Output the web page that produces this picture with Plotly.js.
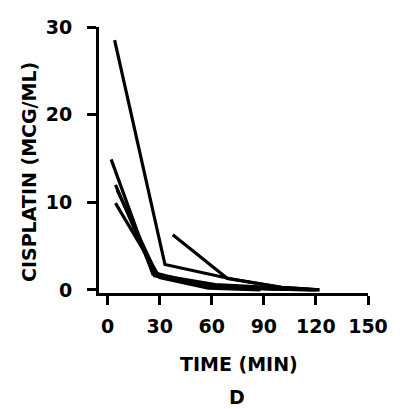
<!DOCTYPE html>
<html>
<head>
<meta charset="utf-8">
<script src="https://cdn.plot.ly/plotly-3.0.1.min.js"></script>
<style>html,body{margin:0;padding:0;background:#fff;}#chart{width:400px;height:409px;}</style>
</head>
<body>
<div id="chart"></div>
<script>
// Time (min) and cisplatin concentration (mcg/mL) for each patient curve
const timeA = [4, 33, 70, 100, 122];
const concA = [28.5, 2.9, 1.3, 0.3, 0];
const timeB = [2, 26, 62, 98, 120];
const concB = [14.9, 1.8, 0.6, 0.2, 0];
const timeC = [4.5, 27, 60, 95, 120];
const concC = [12, 1.6, 0.4, 0.1, 0];
const timeD = [5.5, 28, 60, 92, 118];
const concD = [11.4, 1.9, 0.3, 0.1, 0];
const timeE = [4.5, 30, 58, 88];
const concE = [9.9, 1.4, 0.2, 0];
const timeF = [37.5, 69, 100, 122];
const concF = [6.3, 1.3, 0.3, 0];

const xTicks = [0, 30, 60, 90, 120, 150];
const yTicks = [0, 10, 20, 30];
const xTitle = 'TIME (MIN)';
const yTitle = 'CISPLATIN (MCG/ML)';
const panelLabel = 'D';

const series = [[timeA, concA],[timeB, concB],[timeC, concC],[timeD, concD],[timeE, concE],[timeF, concF]];
const traces = series.map(s => ({
  x: s[0], y: s[1], type: 'scatter', mode: 'lines',
  line: {color: '#000', width: 3.2}, hoverinfo: 'skip', showlegend: false
}));

const font = {family: 'DejaVu Sans, Verdana, sans-serif', size: 19, color: '#000', weight: 'bold'};

const layout = {
  width: 400, height: 409,
  margin: {l: 99, r: 32, t: 27, b: 116},
  paper_bgcolor: '#fff', plot_bgcolor: '#fff',
  showlegend: false,
  xaxis: {
    range: [-5, 150], tickvals: xTicks, ticktext: xTicks.map(String),
    showgrid: false, zeroline: false, showline: true, linecolor: '#000', linewidth: 3,
    ticks: 'outside', ticklen: 9, tickwidth: 3, tickcolor: '#000',
    tickfont: font, ticklabelstandoff: 5
  },
  yaxis: {
    range: [-0.35, 30], tickvals: yTicks, ticktext: yTicks.map(String),
    showgrid: false, zeroline: false, showline: true, linecolor: '#000', linewidth: 3,
    ticks: 'outside', ticklen: 9, tickwidth: 3, tickcolor: '#000',
    tickfont: font, ticklabelstandoff: 11
  },
  annotations: [
    {text: yTitle, xref: 'paper', yref: 'paper', x: -0.26, y: 0.455, textangle: -90,
     xanchor: 'center', yanchor: 'middle', showarrow: false, font: font},
    {text: xTitle, xref: 'paper', yref: 'paper', x: 0.522, y: -0.267,
     xanchor: 'center', yanchor: 'middle', showarrow: false, font: font},
    {text: panelLabel, xref: 'paper', yref: 'paper', x: 0.513, y: -0.391,
     xanchor: 'center', yanchor: 'middle', showarrow: false, font: font}
  ]
};

Plotly.newPlot('chart', traces, layout, {staticPlot: true, displayModeBar: false});
</script>
</body>
</html>
